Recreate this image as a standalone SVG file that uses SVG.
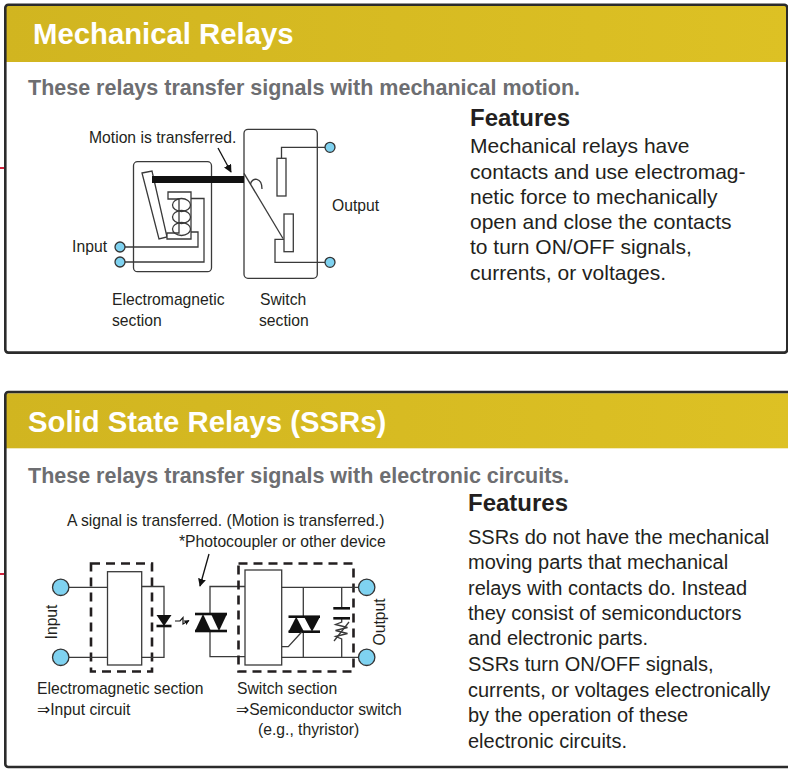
<svg xmlns="http://www.w3.org/2000/svg" width="788" height="769" viewBox="0 0 788 769">
<style>
text{font-family:"Liberation Sans",Arial,"DejaVu Sans",sans-serif}
.title{fill:#fff;font-weight:bold;font-size:29.3px}
.sub{fill:#6d6e71;font-weight:bold;font-size:21.5px}
.feat{fill:#231f20;font-weight:bold;font-size:24px}
.body{fill:#231f20;font-size:20px}
.body1{fill:#231f20;font-size:21px}
.lbl{fill:#231f20;font-size:15.7px}
.panel{fill:none;stroke:#2b2b2b;stroke-width:2.6}
.w{fill:none;stroke:#3a3a3a;stroke-width:1.3}
.box{fill:#fff;stroke:#3a3a3a;stroke-width:1.3}
.term{fill:#7fd2f0;stroke:#333;stroke-width:1.3}
.dash{fill:none;stroke:#231f20;stroke-width:2.6;stroke-dasharray:9 6}
.blk{fill:#111;stroke:none}
.bar{stroke:#111;stroke-width:2.6}
</style>
<defs>
<linearGradient id="hdr" x1="0" y1="0" x2="1" y2="0">
<stop offset="0" stop-color="#d1b520"/>
<stop offset="1" stop-color="#ddc124"/>
</linearGradient>
<marker id="ah" viewBox="0 0 10 10" refX="9" refY="5" markerWidth="8" markerHeight="8" markerUnits="userSpaceOnUse" orient="auto">
<path d="M0,0 L10,5 L0,10 Z" fill="#111"/>
</marker>
<marker id="ahs" viewBox="0 0 10 10" refX="9" refY="5" markerWidth="5" markerHeight="5" markerUnits="userSpaceOnUse" orient="auto">
<path d="M0,0 L10,5 L0,10 Z" fill="#111"/>
</marker>
</defs>
<rect width="788" height="769" fill="#fff"/>
<rect x="0" y="167" width="4" height="2" fill="#d2233c"/>
<rect x="0" y="573" width="4" height="2" fill="#d2233c"/>

<!-- Panel 1 -->
<g id="panel-mechanical">
<rect x="5.3" y="6" width="782" height="56" fill="url(#hdr)"/>
<rect class="panel" x="5.3" y="4.7" width="782" height="347.9" rx="3"/>
<text class="title" x="33" y="44">Mechanical Relays</text>
<text class="sub" x="28" y="95">These relays transfer signals with mechanical motion.</text>
<text class="feat" x="470" y="126">Features</text>
<text class="body1" x="470" y="153">Mechanical relays have</text>
<text class="body1" x="470" y="179">contacts and use electromag-</text>
<text class="body1" x="470" y="204">netic force to mechanically</text>
<text class="body1" x="470" y="229">open and close the contacts</text>
<text class="body1" x="470" y="254">to turn ON/OFF signals,</text>
<text class="body1" x="470" y="280">currents, or voltages.</text>
</g>

<g id="em-section">
<rect class="box" x="133.5" y="161.7" width="78" height="110" rx="4"/>
<polygon class="box" points="142,173 152,171 167,237 159,239"/>
<path class="box" d="M168,192 H191 V239 H167 V233 H179 V199 H168 Z"/>
<ellipse class="w" cx="181.5" cy="205" rx="9" ry="6.5"/>
<ellipse class="w" cx="181.5" cy="217" rx="9" ry="6.5"/>
<ellipse class="w" cx="181.5" cy="229" rx="9" ry="6.5"/>
<path class="w" d="M191,198.5 H204 V262 H125"/>
<path class="w" d="M191,232 H198 V247 H125"/>
<circle class="term" cx="120" cy="247" r="5"/>
<circle class="term" cx="120" cy="262" r="5"/>
<text class="lbl" x="107" y="252" text-anchor="end">Input</text>
<text class="lbl" x="112" y="305">Electromagnetic</text>
<text class="lbl" x="112" y="326">section</text>
</g>

<g id="switch-section">
<rect class="box" x="244" y="129.3" width="73.3" height="149" rx="4"/>
<path class="w" d="M325,147.3 H281.5 V158"/>
<rect class="box" x="277" y="158.3" width="9" height="37.7"/>
<rect class="box" x="284" y="214" width="9.3" height="37.7"/>
<line class="w" x1="244" y1="173.3" x2="283" y2="238.5"/>
<path class="w" d="M250.5,184 C252,177 262,177 262,189"/>
<path class="w" d="M284,239.3 H275 V262.3 H325"/>
<circle class="term" cx="330" cy="147.3" r="5"/>
<circle class="term" cx="330" cy="262.3" r="5"/>
<text class="lbl" x="332" y="211">Output</text>
<text class="lbl" x="260" y="305">Switch</text>
<text class="lbl" x="259" y="326">section</text>
</g>

<g id="connectors-mech">
<rect class="blk" x="152" y="176" width="92" height="7"/>
<line x1="218" y1="148" x2="231" y2="172" stroke="#111" stroke-width="1.3" marker-end="url(#ah)"/>
<text class="lbl" x="89" y="143">Motion is transferred.</text>
</g>

<!-- Panel 2 -->
<g id="panel-ssr">
<rect x="5.3" y="393.3" width="790" height="55" fill="url(#hdr)"/>
<rect class="panel" x="5.3" y="392" width="800" height="375" rx="3"/>
<text class="title" x="28" y="432">Solid State Relays (SSRs)</text>
<text class="sub" x="28" y="483">These relays transfer signals with electronic circuits.</text>
<text class="feat" x="468" y="511">Features</text>
<text class="body" x="468" y="544">SSRs do not have the mechanical</text>
<text class="body" x="468" y="569">moving parts that mechanical</text>
<text class="body" x="468" y="595">relays with contacts do. Instead</text>
<text class="body" x="468" y="620">they consist of semiconductors</text>
<text class="body" x="468" y="645">and electronic parts.</text>
<text class="body" x="468" y="671">SSRs turn ON/OFF signals,</text>
<text class="body" x="468" y="697">currents, or voltages electronically</text>
<text class="body" x="468" y="722">by the operation of these</text>
<text class="body" x="468" y="748">electronic circuits.</text>
</g>

<g id="input-circuit">
<rect class="dash" x="91" y="563.5" width="61" height="108"/>
<path class="w" d="M69,587.3 H107.5 M69,657.3 H107.5"/>
<rect class="box" x="107.5" y="571.7" width="34.2" height="93.3"/>
<path class="w" d="M141.7,586.5 H164 V626 M164,615 V657.3 H141.7"/>
<polygon class="blk" points="156.5,615 171.5,615 164,626"/>
<line class="bar" x1="156.5" y1="626" x2="171.5" y2="626"/>
<path d="M175,621 H180 L183,617.5 L183,624 L189,620.5" fill="none" stroke="#111" stroke-width="1.2" marker-end="url(#ahs)"/>
<circle class="term" cx="60.7" cy="587.3" r="8.2"/>
<circle class="term" cx="60.7" cy="657.3" r="8.2"/>
<text class="lbl" transform="translate(57,622) rotate(-90)" text-anchor="middle">Input</text>
<text class="lbl" x="37" y="694">Electromagnetic section</text>
<text class="lbl" x="37" y="715">⇒Input circuit</text>
</g>

<g id="photocoupler">
<path class="w" d="M245,586.5 H210 V614 M210,631 V656.7 H245"/>
<line class="bar" x1="195" y1="614" x2="227" y2="614"/>
<line class="bar" x1="195" y1="631" x2="227" y2="631"/>
<polygon class="blk" points="195,631 211,631 203,614"/>
<polygon class="blk" points="211,614 227,614 219,631"/>
</g>

<g id="switch-circuit">
<rect class="dash" x="238.5" y="563.5" width="115" height="108"/>
<rect class="box" x="245" y="570" width="36.7" height="95"/>
<path class="w" d="M281.7,587.3 H358.5 M281.7,657.3 H358.5"/>
<path class="w" d="M303.3,587.3 V616.7 M303.3,631.7 V657.3"/>
<line class="bar" x1="288.5" y1="616.7" x2="320" y2="616.7"/>
<line class="bar" x1="288.5" y1="631.7" x2="320" y2="631.7"/>
<polygon class="blk" points="288.5,631.7 304,631.7 296.2,616.7"/>
<polygon class="blk" points="304,616.7 320,616.7 312,631.7"/>
<path class="w" d="M281.7,646.7 H288.3 L301.7,632"/>
<path class="w" d="M341.7,587.3 V608.3 M341.7,618.3 V622 L335.5,624.5 L347.5,627.5 L335.5,630.5 L347.5,633.5 L335.5,636.5 L341.7,639 V657.3"/>
<line class="bar" x1="333.3" y1="608.3" x2="350" y2="608.3"/>
<line class="bar" x1="333.3" y1="618.3" x2="350" y2="618.3"/>
<line class="w" x1="334" y1="641" x2="349" y2="622"/>
<circle class="term" cx="366.7" cy="587.3" r="8.2"/>
<circle class="term" cx="366.7" cy="657.3" r="8.2"/>
<text class="lbl" transform="translate(385,622) rotate(-90)" text-anchor="middle">Output</text>
<text class="lbl" x="237" y="694">Switch section</text>
<text class="lbl" x="236" y="715">⇒Semiconductor switch</text>
<text class="lbl" x="258" y="735">(e.g., thyristor)</text>
</g>

<g id="connectors-ssr">
<text class="lbl" x="67" y="526">A signal is transferred. (Motion is transferred.)</text>
<text class="lbl" x="179" y="547">*Photocoupler or other device</text>
<line x1="209" y1="554" x2="200" y2="586" stroke="#111" stroke-width="1.3" marker-end="url(#ah)"/>
</g>
</svg>
